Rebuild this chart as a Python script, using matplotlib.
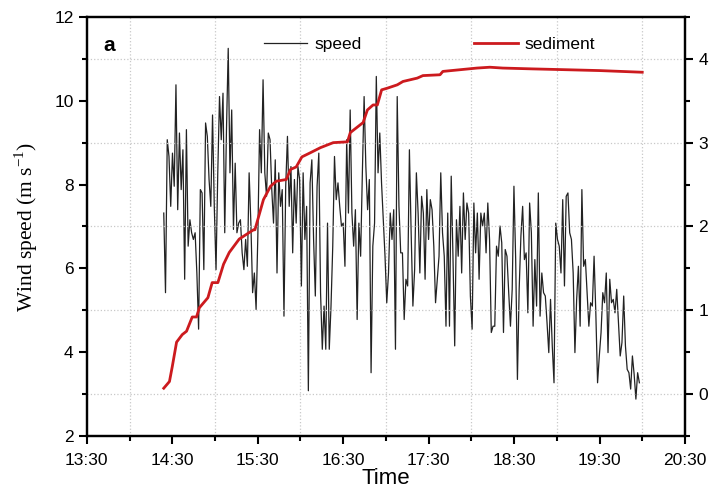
import numpy as np
import matplotlib
matplotlib.use("Agg")
import matplotlib.pyplot as plt
from matplotlib.ticker import MultipleLocator, FuncFormatter

# wind speed (m/s), sampled about once a minute from 14:24 to 19:58
speed_start = "14:24"
speed_end = "19:58"
speed = [
    7.32, 5.42, 9.07, 8.67, 7.48, 8.75, 7.96, 10.38, 7.40, 9.23, 7.88, 8.83, 5.74, 9.31, 6.53, 7.16,
    6.85, 6.69, 6.85, 5.89, 4.55, 7.88, 7.80, 5.97, 9.47, 9.15, 8.12, 7.48, 9.66, 7.48, 5.97, 8.28,
    10.10, 9.07, 10.18, 6.85, 9.31, 11.25, 8.28, 9.78, 6.93, 8.51, 6.85, 7.08, 7.16, 6.37, 5.97,
    6.69, 6.05, 8.28, 7.08, 5.42, 5.89, 5.02, 6.77, 9.31, 8.28, 10.50, 8.28, 7.72, 9.23, 9.07, 7.88,
    7.08, 8.59, 5.89, 8.28, 7.48, 7.88, 4.86, 7.96, 9.15, 7.48, 8.43, 6.37, 8.12, 7.08, 8.43, 8.12,
    5.58, 8.28, 6.69, 7.48, 3.08, 8.04, 8.59, 6.69, 5.34, 7.96, 8.75, 5.42, 4.07,
    5.10, 4.07, 7.08, 4.07, 5.10, 6.53, 8.67, 7.64, 8.04, 7.48, 7.01, 7.08, 6.05, 9.07, 7.32, 9.78,
    7.32, 6.53, 7.40, 4.78, 7.08, 6.29, 8.28, 10.10, 8.43, 7.40, 8.12, 3.51, 6.53, 7.08, 10.58, 8.28,
    9.23, 8.04, 7.16, 6.29, 5.18, 5.89, 7.32, 6.69, 7.40, 4.07, 10.10, 7.48, 6.37,
    6.37, 4.78, 5.74, 5.58, 8.83, 6.85, 5.10, 5.97, 8.28, 7.32, 5.89, 7.72, 7.32, 5.74, 7.88, 6.69,
    7.64, 7.40, 6.53, 5.18, 5.74, 6.29, 8.28, 6.85, 6.29, 4.62, 7.32, 4.62, 8.20, 6.29, 4.15, 7.16,
    6.29, 7.48, 5.89, 7.80, 6.69, 7.56, 7.32, 5.34, 4.55, 7.56, 6.37, 7.32, 5.74,
    7.32, 7.01, 7.32, 6.37, 7.56, 6.69, 4.47, 4.62, 4.62, 6.53, 6.29, 7.01, 6.61, 4.47, 6.45, 6.29,
    5.42, 4.62, 5.50, 7.96, 6.21, 3.35, 5.50, 6.77, 7.48, 6.21, 6.37, 4.94, 7.56, 6.85, 4.62, 6.21,
    5.10, 7.80, 4.86, 5.89, 5.42, 5.34, 4.70, 3.99, 5.26, 4.15, 3.27, 7.08, 6.69,
    6.53, 5.89, 7.64, 5.58, 7.72, 7.80, 6.85, 6.69, 5.89, 3.99, 5.26, 6.05, 4.62, 7.88, 6.05, 6.21,
    5.42, 4.62, 5.18, 5.10, 6.29, 4.94, 3.27, 3.91, 4.47, 5.42, 5.18, 5.89, 3.99, 5.74, 5.18, 5.26,
    4.94, 5.50, 4.70, 3.91, 4.23, 5.34, 4.15, 3.59, 3.51, 3.12, 3.91, 3.47, 2.88, 3.51, 3.27,
]

# accumulated sediment (right axis)
sed_time = [
    "14:24", "14:28", "14:30", "14:33", "14:37", "14:40", "14:44", "14:47", "14:49", "14:55",
    "14:58", "15:02", "15:06", "15:10", "15:17", "15:27", "15:28", "15:34", "15:39", "15:43",
    "15:50", "15:53", "15:57", "16:01", "16:07", "16:14", "16:23", "16:33", "16:35", "16:44",
    "16:47", "16:51", "16:54", "16:57", "17:01", "17:08", "17:12", "17:22", "17:26", "17:38",
    "17:40", "17:52", "18:04", "18:13", "18:22", "18:43", "19:07", "19:30", "20:00",
]
sediment = [
    0.07, 0.15, 0.33, 0.62, 0.71, 0.75, 0.92, 0.92, 1.03, 1.15,
    1.33, 1.33, 1.55, 1.69, 1.85, 1.96, 1.96, 2.32, 2.48, 2.54,
    2.56, 2.68, 2.71, 2.83, 2.88, 2.94, 3.00, 3.01, 3.12, 3.24,
    3.39, 3.45, 3.45, 3.63, 3.65, 3.69, 3.73, 3.77, 3.80, 3.81,
    3.85, 3.87, 3.89, 3.90, 3.89, 3.88, 3.87, 3.86, 3.84,
]

x_ticks = ["13:30", "14:30", "15:30", "16:30", "17:30", "18:30", "19:30", "20:30"]


def to_hours(s):
    h, m = s.split(":")
    return int(h) + int(m) / 60.0


def hhmm(x, pos=None):
    total = int(round(x * 60))
    return "%d:%02d" % (total // 60, total % 60)


speed_t = np.linspace(to_hours(speed_start), to_hours(speed_end), len(speed))
sed_t = [to_hours(s) for s in sed_time]

plt.rcParams["font.family"] = ["Liberation Sans", "DejaVu Sans"]
plt.rcParams["mathtext.fontset"] = "custom"
plt.rcParams["mathtext.rm"] = "Liberation Serif"

fig = plt.figure(figsize=(7.12, 4.98), dpi=100)
ax = fig.add_axes([0.122, 0.1245, 0.840, 0.8415])
ax2 = ax.twinx()

ln1, = ax.plot(speed_t, speed, color="#222222", lw=0.9, label="speed")
ln2, = ax2.plot(sed_t, sediment, color="#cc1a1e", lw=2.0, label="sediment")

ax.set_xlim(to_hours(x_ticks[0]), to_hours(x_ticks[-1]))
ax.set_xticks([to_hours(s) for s in x_ticks])
ax.xaxis.set_major_formatter(FuncFormatter(hhmm))
ax.xaxis.set_minor_locator(MultipleLocator(1.0))

ax.set_ylim(2, 12)
ax.yaxis.set_major_locator(MultipleLocator(2))
ax.yaxis.set_minor_locator(MultipleLocator(1))
ax2.set_ylim(-0.5, 4.5)
ax2.yaxis.set_major_locator(MultipleLocator(1))
ax2.yaxis.set_minor_locator(MultipleLocator(0.5))

ax.grid(axis="x", which="minor", color="#c8c8c8", ls=":", lw=0.9)
ax2.grid(axis="y", which="major", color="#c8c8c8", ls=":", lw=0.9)

for a in (ax, ax2):
    a.tick_params(which="major", direction="out", length=6, width=1.5, labelsize=12.5)
    a.tick_params(which="minor", direction="out", length=3.5, width=1.5)
    for sp in a.spines.values():
        sp.set_linewidth(1.6)
ax.tick_params(axis="x", pad=6)

ax.set_xlabel("Time", fontsize=16, labelpad=0)
ax.set_ylabel("Wind speed (m s$^{-1}$)", fontsize=15.5, family="Liberation Serif", labelpad=10)

ax.legend(handles=[ln1], loc="upper left", bbox_to_anchor=(0.27, 0.99), frameon=False,
          fontsize=12.5, handlelength=2.5, handletextpad=0.4)
ax2.legend(handles=[ln2], loc="upper left", bbox_to_anchor=(0.622, 0.99), frameon=False,
           fontsize=12.5, handlelength=2.5, handletextpad=0.4)

ax.text(0.028, 0.955, "a", transform=ax.transAxes, fontsize=15, fontweight="bold", va="top")

fig.savefig("out.png", dpi=100)
